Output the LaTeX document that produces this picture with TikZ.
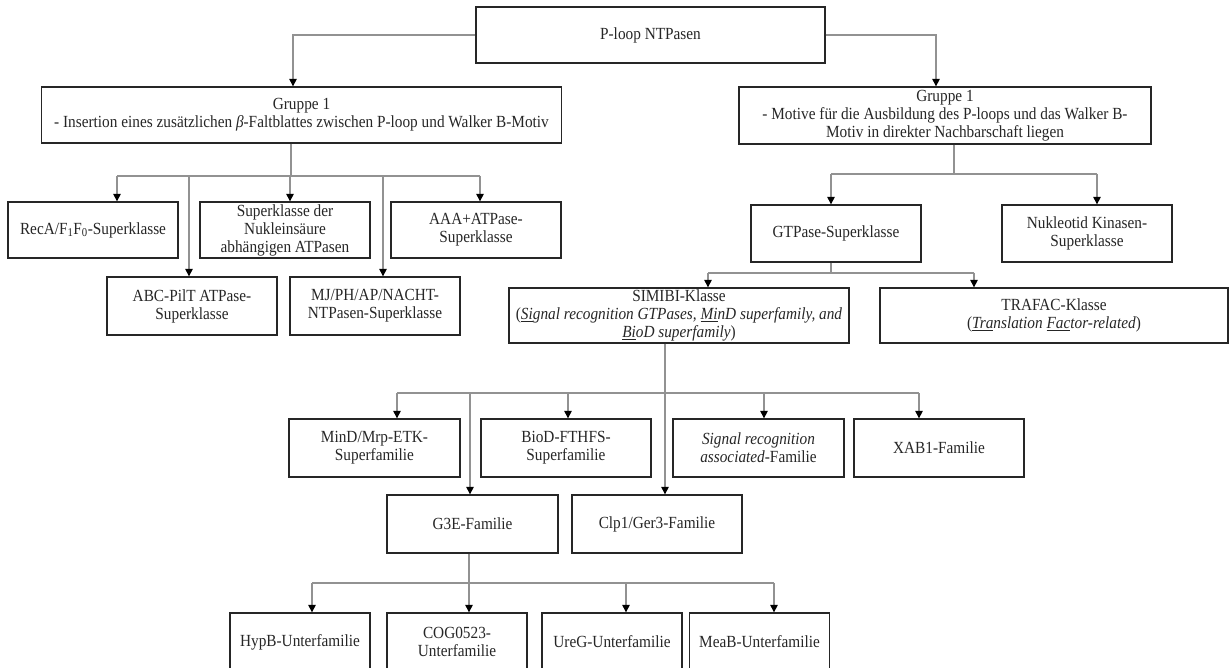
\documentclass[tikz,border=0pt]{standalone}
\usepackage{fontspec}
\setmainfont{Liberation Serif}[FakeStretch=0.9]
\usetikzlibrary{arrows.meta}
\definecolor{boxline}{HTML}{262626}
\definecolor{conline}{HTML}{929292}
\tikzstyle{box}=[draw=boxline, line width=1.3pt, text=black!85, align=center, inner sep=1pt,
                 minimum width=170, minimum height=56, font=\fontsize{17}{18}\selectfont]
\tikzstyle{line}=[conline, line width=1.1pt]
\tikzstyle{connect}=[line, -{Triangle[width=7.5pt, length=7.5pt, color=black]}]

\begin{document}
\begin{tikzpicture}[x=1pt, y=-1pt]
      \path[use as bounding box, fill=white] (0,0) rectangle (1232,668);

      % TOP
      \node[box, minimum width=349] (ploop) at (650.5,35) {P-loop NTPasen};

      % GROUPS
      \node[box, minimum width=520] (grpL) at (301.5,115)
        {Gruppe 1\\- Insertion eines zusätzlichen \textit{β}-Faltblattes zwischen P-loop und Walker B-Motiv};
      \node[box, minimum width=412, minimum height=57] (grpR) at (945,115.5)
        {Gruppe 1\\- Motive für die Ausbildung des P-loops und das Walker B-\\Motiv in direkter Nachbarschaft liegen};
      \draw[connect] (ploop.west) -| ([xshift=-8.5pt]grpL.north);
      \draw[connect] (ploop.east) -| ([xshift=-9pt]grpR.north);

      % LEFT BRANCH
      \node[box] (recA) at (93,230) {RecA/F\textsubscript{1}F\textsubscript{0}-Superklasse};
      \node[box] (nukl) at (285,230) {Superklasse der\\Nukleinsäure\\abhängigen ATPasen};
      \node[box] (aaa)  at (476,230) {AAA+ATPase-\\Superklasse};
      \node[box, minimum height=58] (abc)  at (192,306) {ABC-PilT ATPase-\\Superklasse};
      \node[box, minimum height=58] (mjph) at (375,306) {MJ/PH/AP/NACHT-\\NTPasen-Superklasse};

      \coordinate (jL) at (291,176);
      \draw[line] (grpL.south -| jL) -- (jL);
      \draw[line] (117,0 |- jL) -- (480,0 |- jL);
      \foreach \x/\n in {117/recA, 290/nukl, 480/aaa, 189/abc, 383/mjph}{  % drops to boxes
        \draw[connect] (\x,0 |- jL) -- (\x,0 |- \n.north);
      }

      % RIGHT BRANCH
      \node[box, minimum height=57] (gtp)  at (836,233.5) {GTPase-Superklasse};
      \node[box, minimum height=57] (nkin) at (1087,233.5) {Nukleotid Kinasen-\\Superklasse};

      \coordinate (jR) at (954,174);
      \draw[line] (grpR.south -| jR) -- (jR);
      \draw[line] (831,0 |- jR) -- (1097,0 |- jR);
      \foreach \x/\n in {831/gtp, 1097/nkin}{
        \draw[connect] (\x,0 |- jR) -- (\x,0 |- \n.north);
      }

      % CLASSES
      \node[box, minimum width=340, minimum height=55] (simibi) at (679,315.5)
        {SIMIBI-Klasse\\(\textit{\underline{Si}gnal recognition GTPases, \underline{Mi}nD superfamily, and}\\
         \textit{\underline{Bi}oD superfamily})};
      \node[box, minimum width=348, minimum height=55] (trafac) at (1054,315.5)
        {TRAFAC-Klasse\\(\textit{\underline{Tra}nslation \underline{Fac}tor-related})};

      \coordinate (jG) at (831,273);
      \draw[line] (gtp.south -| jG) -- (jG);
      \draw[line] (708,0 |- jG) -- (974,0 |- jG);
      \foreach \x/\n in {708/simibi, 974/trafac}{
        \draw[connect] (\x,0 |- jG) -- (\x,0 |- \n.north);
      }

      % FAMILIES
      \node[box, minimum width=171, minimum height=58] (mind)   at (374.5,448) {MinD/Mrp-ETK-\\Superfamilie};
      \node[box, minimum height=58]                    (biod)   at (566,448) {BioD-FTHFS-\\Superfamilie};
      \node[box, minimum width=171, minimum height=58] (sigrec) at (758.5,448) {\textit{Signal recognition}\\\textit{associated}-Familie};
      \node[box, minimum height=58]                    (xab)    at (939,448) {XAB1-Familie};
      \node[box, minimum width=171, minimum height=58] (gthree) at (472.5,524) {G3E-Familie};
      \node[box, minimum height=58]                    (clp)    at (657,524) {Clp1/Ger3-Familie};

      \coordinate (jS) at (665,393);
      \draw[line] (simibi.south -| jS) -- (jS);
      \draw[line] (397,0 |- jS) -- (919,0 |- jS);
      \foreach \x/\n in {397/mind, 568/biod, 764/sigrec, 919/xab, 470/gthree, 665/clp}{
        \draw[connect] (\x,0 |- jS) -- (\x,0 |- \n.north);
      }

      % SUBFAMILIES
      \foreach \cx/\n/\txt in {300/hypb/HypB-Unterfamilie, 457/cog/COG0523-\\Unterfamilie,
                               612/ureg/UreG-Unterfamilie, 759.5/meab/MeaB-Unterfamilie}{
        \node[box, minimum width=140, minimum height=58] (\n) at (\cx,642) {\txt};
      }

      \coordinate (jT) at (469,583);
      \draw[line] (gthree.south -| jT) -- (jT);
      \draw[line] (312,0 |- jT) -- (774,0 |- jT);
      \foreach \x/\n in {312/hypb, 469/cog, 626/ureg, 774/meab}{
        \draw[connect] (\x,0 |- jT) -- (\x,0 |- \n.north);
      }
\end{tikzpicture}
\end{document}
